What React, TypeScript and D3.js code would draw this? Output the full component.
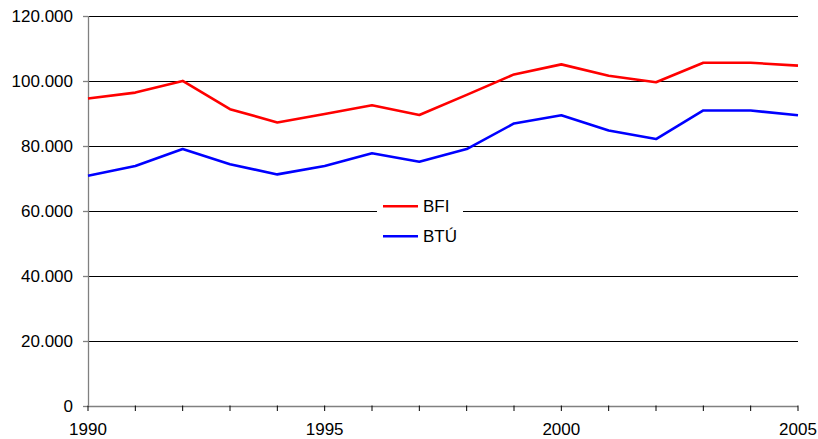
import React from 'react';
import * as d3 from 'd3';

// Years and series
const years = [1990, 1991, 1992, 1993, 1994, 1995, 1996, 1997, 1998, 1999, 2000, 2001, 2002, 2003, 2004, 2005];
const bfi = [94.6, 96.4, 100.0, 91.3, 87.2, 89.8, 92.5, 89.5, 95.7, 102.0, 105.1, 101.6, 99.6, 105.6, 105.6, 104.7].map(v => v * 1000);
const btu = [70.8, 73.8, 79.0, 74.3, 71.2, 73.8, 77.7, 75.1, 79.0, 86.9, 89.4, 84.7, 82.1, 90.9, 90.9, 89.4].map(v => v * 1000);
const yTicks = [0, 20000, 40000, 60000, 80000, 100000, 120000];
const xLabels = [1990, 1995, 2000, 2005];

const seriesList = [
  { name: 'BFI', values: bfi, color: '#ff0000' },
  { name: 'BTÚ', values: btu, color: '#0000ff' },
];

const W = 818;
const H = 439;
const margin = { top: 16, right: 20, bottom: 33.5, left: 88 };

const huLocale = d3.formatLocale({ decimal: ',', thousands: '.', grouping: [3], currency: ['', ' Ft'] });
const fmt = huLocale.format(',d');

const App: React.FC = () => {
  const x = d3.scaleLinear()
    .domain([years[0], years[years.length - 1]])
    .range([margin.left, W - margin.right]);
  const y = d3.scaleLinear()
    .domain([0, 120000])
    .range([H - margin.bottom, margin.top]);

  const line = d3.line<number>()
    .x((_, i) => x(years[i]))
    .y(d => y(d));

  const font = '"Liberation Sans", Arial, sans-serif';
  const x0 = x.range()[0];
  const x1 = x.range()[1];
  const yBase = y(0);

  // legend box (interrupts the 60.000 gridline)
  const legendLeft = 377;
  const legendRight = 463;
  const legendTop = y(60000) - 13;

  return (
    <div style={{ position: 'fixed', left: 0, top: 0, width: W, height: H, background: '#fff' }}>
      <svg width={W} height={H} style={{ display: 'block', fontFamily: font }}>
        {/* gridlines */}
        {yTicks.filter(t => t > 0).map(t => (
          <line key={t} x1={x0} x2={x1} y1={Math.round(y(t)) + 0.5} y2={Math.round(y(t)) + 0.5}
            stroke="#000" strokeWidth={1} />
        ))}
        {/* y axis */}
        <line x1={x0 + 0.5} x2={x0 + 0.5} y1={margin.top} y2={yBase} stroke="#808080" strokeWidth={1.3} />
        {yTicks.map(t => (
          <g key={t}>
            <line x1={x0 - 5} x2={x0} y1={Math.round(y(t)) + 0.5} y2={Math.round(y(t)) + 0.5} stroke="#808080" strokeWidth={1.3} />
            <text x={73} y={y(t)} dy="0.36em" textAnchor="end" fontSize={17} fill="#000">{fmt(t)}</text>
          </g>
        ))}
        {/* x axis */}
        <line x1={x0} x2={x1} y1={Math.round(yBase) + 0.5} y2={Math.round(yBase) + 0.5} stroke="#808080" strokeWidth={1.3} />
        {years.map(yr => (
          <line key={yr} x1={x(yr)} x2={x(yr)} y1={yBase} y2={yBase + 5.5} stroke="#000" strokeWidth={1} />
        ))}
        {xLabels.map(yr => (
          <text key={yr} x={x(yr)} y={435} textAnchor="middle" fontSize={17} fill="#000">{yr}</text>
        ))}
        {/* series */}
        {seriesList.map(s => (
          <path key={s.name} d={line(s.values) || ''} fill="none" stroke={s.color} strokeWidth={2.6} strokeLinejoin="round" />
        ))}
        {/* legend */}
        <rect x={legendLeft} y={legendTop} width={legendRight - legendLeft} height={46} fill="#fff" />
        {seriesList.map((s, i) => {
          const ly = y(60000) - 4.5 + i * 30;
          return (
            <g key={s.name}>
              <line x1={383} x2={418} y1={ly} y2={ly} stroke={s.color} strokeWidth={2.6} />
              <text x={423} y={ly} dy="0.36em" fontSize={17} fill="#000">{s.name}</text>
            </g>
          );
        })}
      </svg>
    </div>
  );
};

export default App;
